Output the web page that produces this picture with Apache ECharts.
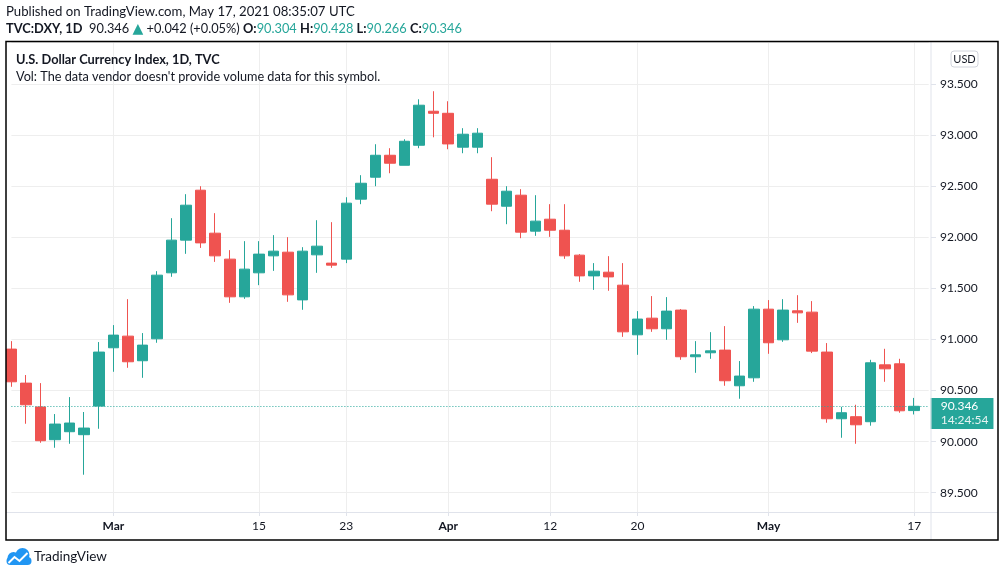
<!DOCTYPE html>
<html>
<head>
<meta charset="utf-8">
<script src="https://cdn.jsdelivr.net/npm/echarts@6/dist/echarts.min.js"></script>
<style>
  html, body { margin: 0; padding: 0; background: #fff; }
  #chart { width: 1006px; height: 577px; }
</style>
</head>
<body>
<div id="chart"></div>
<script>
// trading days, Feb 18 .. May 17 2021
var dates = [
  '02-18','02-19','02-22','02-23','02-24','02-25','02-26',
  '03-01','03-02','03-03','03-04','03-05','03-08','03-09','03-10','03-11','03-12',
  '03-15','03-16','03-17','03-18','03-19','03-22','03-23','03-24','03-25','03-26',
  '03-29','03-30','03-31',
  '04-01','04-02','04-05','04-06','04-07','04-08','04-09','04-12','04-13','04-14',
  '04-15','04-16','04-19','04-20','04-21','04-22','04-23','04-26','04-27','04-28',
  '04-29','04-30',
  '05-03','05-04','05-05','05-06','05-07','05-10','05-11','05-12','05-13','05-14','05-17'
];
var opens = [
  90.906, 90.573, 90.339, 90.019, 90.097, 90.068, 90.348,
  90.919, 91.033, 90.792, 91.007, 91.653, 91.973, 92.462, 92.041, 91.787, 91.418,
  91.653, 91.819, 91.855, 91.388, 91.829, 91.748, 91.787, 92.374, 92.589, 92.804,
  92.706, 92.902, 93.235,
  93.215, 92.883, 92.883, 92.569, 92.305, 92.413, 92.061, 92.178, 92.070, 91.826,
  91.623, 91.659, 91.532, 91.046, 91.209, 91.105, 91.288, 90.831, 90.870, 90.896,
  90.547, 90.625,
  91.297, 90.997, 91.281, 91.268, 90.877, 90.224, 90.244, 90.195, 90.752, 90.762, 90.304
];
var highs = [
  90.984, 90.652, 90.573, 90.270, 90.436, 90.290, 90.975,
  91.141, 91.395, 91.063, 91.669, 92.188, 92.423, 92.501, 92.237, 91.875, 91.963,
  91.963, 92.022, 92.002, 91.904, 92.168, 92.149, 92.393, 92.609, 92.912, 92.873,
  92.961, 93.352, 93.431,
  93.333, 93.069, 93.069, 92.785, 92.501, 92.472, 92.413, 92.325, 92.325, 91.836,
  91.748, 91.816, 91.748, 91.278, 91.425, 91.415, 91.298, 90.984, 91.072, 91.131,
  90.789, 91.327,
  91.386, 91.395, 91.434, 91.376, 90.965, 90.341, 90.361, 90.801, 90.909, 90.811, 90.428
];
var lows = [
  90.537, 90.175, 89.989, 89.940, 89.979, 89.676, 90.126,
  90.684, 90.723, 90.625, 90.968, 91.614, 91.839, 91.897, 91.760, 91.359, 91.398,
  91.532, 91.672, 91.369, 91.291, 91.653, 91.702, 91.748, 92.325, 92.501, 92.628,
  92.706, 92.873, 92.980,
  92.863, 92.824, 92.824, 92.256, 92.129, 91.992, 92.015, 92.005, 91.790, 91.565,
  91.486, 91.477, 91.026, 90.850, 91.075, 90.997, 90.801, 90.674, 90.811, 90.547,
  90.420, 90.586,
  90.860, 90.977, 91.163, 90.867, 90.185, 90.038, 89.979, 90.156, 90.586, 90.283, 90.266
];
var closes = [
  90.586, 90.361, 90.009, 90.172, 90.182, 90.133, 90.877,
  91.043, 90.782, 90.945, 91.630, 91.973, 92.315, 91.946, 91.819, 91.418, 91.689,
  91.836, 91.865, 91.437, 91.865, 91.914, 91.728, 92.335, 92.530, 92.804, 92.726,
  92.941, 93.294, 93.215,
  92.915, 93.010, 93.020, 92.325, 92.452, 92.051, 92.159, 92.070, 91.819, 91.623,
  91.669, 91.613, 91.075, 91.200, 91.105, 91.278, 90.831, 90.850, 90.889, 90.596,
  90.642, 91.297,
  90.968, 91.288, 91.261, 90.886, 90.224, 90.283, 90.165, 90.772, 90.713, 90.302, 90.346
];
// time axis labels
var tickDates = ['03-01', '03-15', '03-23', '04-01', '04-12', '04-20', '05-03', '05-17'];
var tickLabels = ['Mar', '15', '23', 'Apr', '12', '20', 'May', '17'];

var UP = '#26a69a', DOWN = '#ef5350', TXT = '#131722', GRID = '#eeeeee', SEP = '#e0e3eb';
var FONT = 'Lato';

var ohlc = [];
for (var i = 0; i < dates.length; i++) {
  ohlc.push([opens[i], closes[i], lows[i], highs[i]]);
}
var cats = dates.concat(['']); // one empty slot on the right

var n = dates.length - 1;
var lastO = opens[n], lastH = highs[n], lastL = lows[n], lastC = closes[n];
var chg = lastC - lastO;
var f3 = function (v) { return v.toFixed(3); };

var isTick = function (idx, val) { return tickDates.indexOf(val) >= 0; };

var chart = echarts.init(document.getElementById('chart'));
chart.setOption({
  animation: false,
  backgroundColor: '#fff',
  textStyle: { fontFamily: FONT },
  grid: { left: 11.4, right: 77.3, top: 42, bottom: 65 },
  xAxis: {
    type: 'category',
    data: cats,
    boundaryGap: false,
    axisLine: { show: false },
    axisTick: { show: true, interval: isTick, length: 4, lineStyle: { color: SEP } },
    axisLabel: {
      interval: isTick,
      margin: 8,
      color: TXT,
      fontSize: 12,
      formatter: function (v) {
        var k = tickDates.indexOf(v);
        if (k < 0) return '';
        var s = tickLabels[k];
        return isNaN(+s) ? '{m|' + s + '}' : s;
      },
      rich: { m: { fontWeight: 'bold', fontSize: 12, color: TXT } }
    },
    splitLine: { show: true, interval: isTick, lineStyle: { color: GRID, width: 1 } }
  },
  yAxis: {
    type: 'value',
    position: 'right',
    offset: 2.3,
    min: 89.311,
    max: 93.913,
    splitNumber: 9,
    scale: true,
    axisLine: { show: false },
    axisTick: { show: true, length: 5, lineStyle: { color: SEP } },
    axisLabel: {
      color: TXT, fontSize: 12, margin: 9,
      showMinLabel: false, showMaxLabel: false,
      formatter: f3
    },
    splitLine: { show: true, lineStyle: { color: GRID, width: 1 } }
  },
  series: [{
    type: 'candlestick',
    data: ohlc,
    barWidth: 11,
    clip: false,
    itemStyle: {
      color: UP, color0: DOWN,
      borderColor: UP, borderColor0: DOWN,
      borderWidth: 1
    },
    markLine: {
      silent: true,
      symbol: ['none', 'none'],
      lineStyle: { color: UP, type: [1, 2], width: 1 },
      label: {
        show: true,
        position: 'end',
        distance: 2,
        offset: [0, 7.5],
        backgroundColor: UP,
        padding: [1, 5, 2, 10],
        formatter: '{a|' + f3(lastC) + '}\n{b|14:24:54}',
        rich: {
          a: { color: '#fff', fontSize: 12, lineHeight: 14, fontFamily: FONT },
          b: { color: '#e6f4f2', fontSize: 12, lineHeight: 14, fontFamily: FONT }
        }
      },
      data: [{ yAxis: lastC }]
    }
  }],
  graphic: [
    { type: 'text', left: 6, top: 5, z: 10,
      style: { text: 'Published on TradingView.com, May 17, 2021 08:35:07 UTC',
               fill: TXT, fontSize: 13.2, fontFamily: FONT } },
    { type: 'text', left: 6, top: 22, z: 10,
      style: {
        text: '{b|TVC:DXY, 1D}  ' + f3(lastC) + ' {t|▲} ' + (chg >= 0 ? '+' : '') + chg.toFixed(3) +
              ' (' + (chg >= 0 ? '+' : '') + (chg / lastO * 100).toFixed(2) + '%) ' +
              '{b|O:}{g|' + f3(lastO) + '} {b|H:}{g|' + f3(lastH) + '} {b|L:}{g|' + f3(lastL) +
              '} {b|C:}{g|' + f3(lastC) + '}',
        fill: TXT, fontSize: 12.8, fontFamily: FONT,
        rich: {
          b: { fontWeight: 'bold', fontSize: 12.8, fill: TXT, fontFamily: FONT },
          g: { fill: UP, fontSize: 12.8, fontFamily: FONT },
          t: { fill: UP, fontSize: 14, fontFamily: 'DejaVu Sans' }
        }
      } },
    { type: 'text', left: 16, top: 53, z: 10,
      style: { text: 'U.S. Dollar Currency Index, 1D, TVC', fill: TXT, fontSize: 12.8,
               fontWeight: 'bold', fontFamily: FONT } },
    { type: 'text', left: 16, top: 70, z: 10,
      style: { text: "Vol: The data vendor doesn't provide volume data for this symbol.",
               fill: TXT, fontSize: 12.7, fontFamily: FONT } },
    // price / time axis separators
    { type: 'line', z: 9, shape: { x1: 931, y1: 42, x2: 931, y2: 540 },
      style: { stroke: SEP, lineWidth: 1 } },
    { type: 'line', z: 9, shape: { x1: 6, y1: 512.5, x2: 998, y2: 512.5 },
      style: { stroke: SEP, lineWidth: 1 } },
    // frame
    { type: 'rect', z: 20, shape: { x: 6, y: 41.5, width: 992, height: 498.5 },
      style: { fill: 'none', stroke: '#000', lineWidth: 1.5 } },
    // currency badge
    { type: 'rect', z: 10, shape: { x: 951, y: 51, width: 27, height: 16, r: 3 },
      style: { fill: '#fff', stroke: '#d1d4dc', lineWidth: 1 } },
    { type: 'text', z: 11, x: 964.5, y: 59,
      style: { text: 'USD', fill: TXT, fontSize: 11, fontFamily: FONT,
               align: 'center', verticalAlign: 'middle' } },
    // logo
    { type: 'group', left: 6, top: 548, z: 10, children: [
      { type: 'circle', shape: { cx: 8, cy: 10, r: 6 }, style: { fill: '#2196f3' } },
      { type: 'circle', shape: { cx: 17, cy: 7, r: 7 }, style: { fill: '#2196f3' } },
      { type: 'rect', shape: { x: 1, y: 9, width: 25, height: 8, r: 4 }, style: { fill: '#2196f3' } },
      { type: 'polyline', shape: { points: [[3, 15], [9, 9], [14, 13], [22, 5]] },
        style: { stroke: '#fff', lineWidth: 2, fill: 'none' } }
    ] },
    { type: 'text', left: 34, top: 550, z: 10,
      style: { text: 'TradingView', fill: TXT, fontSize: 13.5, fontFamily: FONT } }
  ]
});
</script>
</body>
</html>
